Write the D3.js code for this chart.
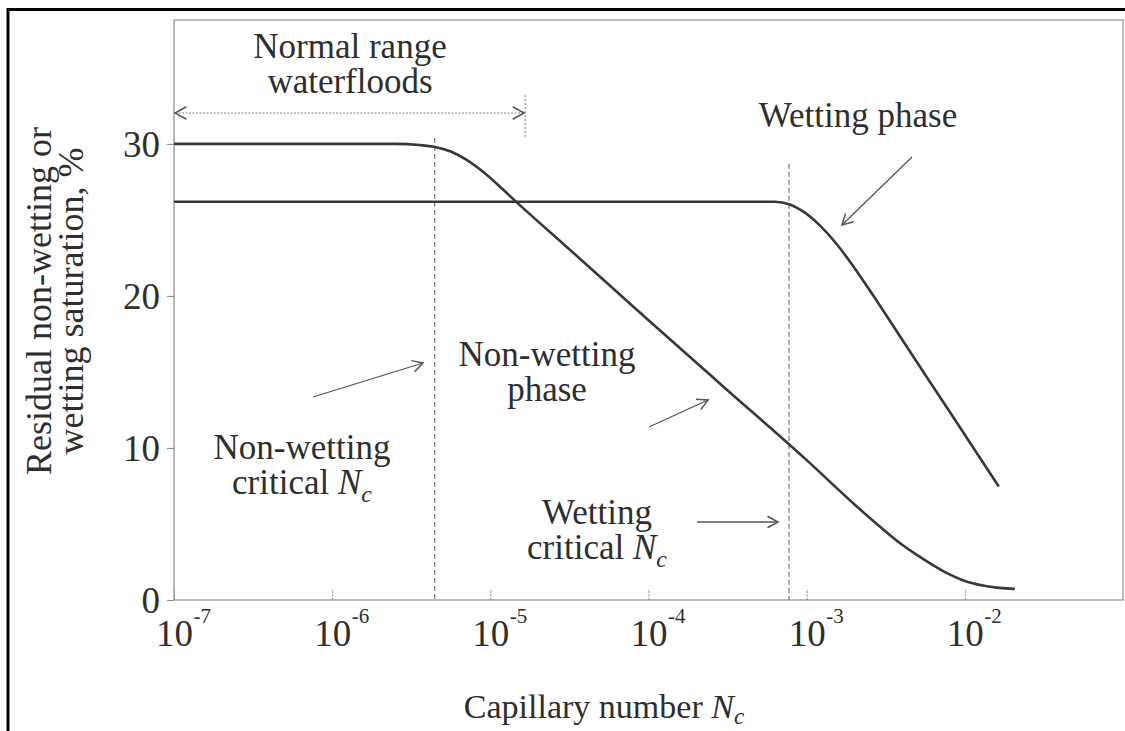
<!DOCTYPE html>
<html>
<head>
<meta charset="utf-8">
<script src="https://cdn.jsdelivr.net/npm/d3@7/dist/d3.min.js"></script>
<style>
  html, body { margin: 0; padding: 0; background: #ffffff; }
  svg { display: block; }
  text { font-family: "Liberation Serif", "Times New Roman", serif; fill: #2e2e2e; }
</style>
</head>
<body>
<svg id="chart" width="1125" height="731"></svg>
<script>
// Residual saturation vs capillary number (log axis)
const xTickExponents = [-7, -6, -5, -4, -3, -2];
const yTickValues = [0, 10, 20, 30];

// Non-wetting phase desaturation curve
const nonWettingNc = [1e-7, 1e-6, 2.51e-6, 3.55e-6, 4.47e-6, 5.62e-6, 7.08e-6, 8.91e-6, 1.12e-5, 1.43e-5,
                      3.03e-5, 1e-4, 3e-4, 1e-3, 2e-3, 3e-3, 3.88e-3, 5e-3, 6.28e-3, 8e-3,
                      9.7e-3, 1.3e-2, 1.65e-2, 2.07e-2];
const nonWettingS  = [30.0, 30.0, 30.0, 29.93, 29.8, 29.5, 28.95, 28.2, 27.3, 26.27,
                      23.24, 18.4, 14.0, 9.2, 6.3, 4.7, 3.75, 2.95, 2.3, 1.68,
                      1.3, 0.95, 0.8, 0.73];

// Wetting phase desaturation curve
const wettingNc = [1e-7, 1e-5, 1e-4, 5.06e-4, 6.3e-4, 7.83e-4, 9.74e-4, 1.21e-3, 1.51e-3, 1.875e-3,
                   2.51e-3, 3.88e-3, 8.04e-3, 1.64e-2];
const wettingS  = [26.2, 26.2, 26.2, 26.2, 26.2, 26.02, 25.48, 24.64, 23.55, 22.27,
                   20.36, 17.36, 12.36, 7.46];

// Critical capillary numbers and the upper limit of normal waterfloods
const nonWettingCriticalNc = 4.45e-6;
const wettingCriticalNc = 7.73e-4;
const normalRangeLimitNc = 1.66e-5;

const svg = d3.select("#chart");
const plotLeft = 174, plotRight = 1123, plotTop = 20, plotBottom = 600;

const x = d3.scaleLog().domain([1e-7, 1e-1]).range([plotLeft, plotRight]);
const y = d3.scaleLinear().domain([0, 38.15]).range([plotBottom, plotTop]);

// outer page border
svg.append("path")
  .attr("d", `M8,740 L8,9.5 L1135,9.5`)
  .attr("fill", "none").attr("stroke", "#000").attr("stroke-width", 3);

// plot frame
svg.append("rect")
  .attr("x", plotLeft).attr("y", plotTop)
  .attr("width", plotRight - plotLeft).attr("height", plotBottom - plotTop)
  .attr("fill", "none").attr("stroke", "#8c8c8c").attr("stroke-width", 1.2);

// x axis
const gx = svg.append("g").attr("transform", `translate(0,${plotBottom})`)
  .call(d3.axisBottom(x)
    .tickValues(xTickExponents.map(e => Math.pow(10, e)))
    .tickSizeInner(-11).tickSizeOuter(0)
    .tickFormat(""));
gx.select(".domain").remove();
gx.selectAll(".tick line").attr("stroke", "#8c8c8c").attr("stroke-width", 1.1)
  .attr("stroke-dasharray", "2,1.5");
gx.selectAll(".tick").each(function(d, i) {
  const g = d3.select(this);
  g.select("text").remove();
  g.append("text").attr("x", 0).attr("y", 46)
    .attr("text-anchor", "middle").attr("font-size", 37).text("10");
  g.append("text").attr("x", 19).attr("y", 23)
    .attr("text-anchor", "start").attr("font-size", 21).text(String(xTickExponents[i]));
});

// y axis
const gy = svg.append("g").attr("transform", `translate(${plotLeft},0)`)
  .call(d3.axisLeft(y).tickValues(yTickValues).tickSizeInner(7).tickSizeOuter(0).tickPadding(7));
gy.select(".domain").remove();
gy.selectAll(".tick line").attr("stroke", "#8c8c8c").attr("stroke-width", 1.1);
gy.selectAll(".tick text").attr("font-size", 37).attr("fill", "#2e2e2e").attr("dy", "0.35em");

// critical capillary number markers
svg.append("line")
  .attr("x1", x(nonWettingCriticalNc)).attr("x2", x(nonWettingCriticalNc))
  .attr("y1", 138).attr("y2", plotBottom)
  .attr("stroke", "#777").attr("stroke-width", 1.2).attr("stroke-dasharray", "5,3");
svg.append("line")
  .attr("x1", x(wettingCriticalNc)).attr("x2", x(wettingCriticalNc))
  .attr("y1", 164).attr("y2", plotBottom)
  .attr("stroke", "#777").attr("stroke-width", 1.2).attr("stroke-dasharray", "5,3");

// normal waterflood range
const rangeY = 113;
svg.append("line")
  .attr("x1", x(normalRangeLimitNc)).attr("x2", x(normalRangeLimitNc))
  .attr("y1", 95).attr("y2", 138)
  .attr("stroke", "#888").attr("stroke-width", 1.2).attr("stroke-dasharray", "2,2");
svg.append("line")
  .attr("x1", x(1e-7) + 1).attr("x2", x(normalRangeLimitNc) - 1)
  .attr("y1", rangeY).attr("y2", rangeY)
  .attr("stroke", "#888").attr("stroke-width", 1.2).attr("stroke-dasharray", "2,1.5");

function chevron(tipX, tipY, angle, size) {
  // open arrow head pointing along `angle` (radians)
  const a1 = angle + Math.PI - 0.5, a2 = angle + Math.PI + 0.5;
  return `M${tipX + size * Math.cos(a1)},${tipY + size * Math.sin(a1)} L${tipX},${tipY} L${tipX + size * Math.cos(a2)},${tipY + size * Math.sin(a2)}`;
}
svg.append("path").attr("d", chevron(x(1e-7) + 1, rangeY, Math.PI, 13))
  .attr("fill", "none").attr("stroke", "#555").attr("stroke-width", 1.5);
svg.append("path").attr("d", chevron(x(normalRangeLimitNc) - 1, rangeY, 0, 13))
  .attr("fill", "none").attr("stroke", "#555").attr("stroke-width", 1.5);

// curves
const line = d3.line()
  .x(d => x(d[0])).y(d => y(d[1]))
  .curve(d3.curveMonotoneX);
svg.append("path")
  .datum(nonWettingNc.map((v, i) => [v, nonWettingS[i]]))
  .attr("d", line).attr("fill", "none").attr("stroke", "#383838").attr("stroke-width", 2.6);
svg.append("path")
  .datum(wettingNc.map((v, i) => [v, wettingS[i]]))
  .attr("d", line).attr("fill", "none").attr("stroke", "#383838").attr("stroke-width", 2.6);

// annotation arrows
function arrow(x1, y1, x2, y2) {
  const ang = Math.atan2(y2 - y1, x2 - x1);
  svg.append("line").attr("x1", x1).attr("y1", y1).attr("x2", x2).attr("y2", y2)
    .attr("stroke", "#555").attr("stroke-width", 1.3);
  svg.append("path").attr("d", chevron(x2, y2, ang, 12))
    .attr("fill", "none").attr("stroke", "#555").attr("stroke-width", 1.5);
}
arrow(912, 157, 842, 225);
arrow(313, 397, 423, 363);
arrow(649, 427, 708, 400);
arrow(697, 522, 778, 522);

// annotation text: one text element per label, one tspan row per line
const lineGap = 35;
function label(cx, baseline, lines, size) {
  const t = svg.append("text").attr("x", cx).attr("y", baseline)
    .attr("text-anchor", "middle").attr("font-size", size);
  lines.forEach((ln, i) => {
    if (typeof ln === "string") {
      t.append("tspan").attr("x", cx).attr("dy", i === 0 ? 0 : lineGap).text(ln);
    } else {
      t.append("tspan").attr("x", cx).attr("dy", i === 0 ? 0 : lineGap).text(ln[0]);
      t.append("tspan").attr("font-style", "italic").text("N");
      t.append("tspan").attr("font-style", "italic").attr("font-size", size * 0.68)
        .attr("dy", 8).text("c");
    }
  });
}
label(350, 58, ["Normal range", "waterfloods"], 35);
label(858, 127, ["Wetting phase"], 35);
label(547, 366, ["Non-wetting", "phase"], 35);
label(302, 459, ["Non-wetting", ["critical "]], 35);
label(597, 524, ["Wetting", ["critical "]], 35);

// axis titles
const xt = svg.append("text").attr("x", 604).attr("y", 718)
  .attr("text-anchor", "middle").attr("font-size", 34);
xt.append("tspan").text("Capillary number ");
xt.append("tspan").attr("font-style", "italic").text("N");
xt.append("tspan").attr("font-style", "italic").attr("font-size", 23).attr("dy", 6).text("c");

const yt = svg.append("text").attr("transform", "translate(0,301) rotate(-90)")
  .attr("x", 0).attr("y", 51).attr("text-anchor", "middle").attr("font-size", 36);
yt.append("tspan").attr("x", 0).attr("dy", 0).text("Residual non-wetting or");
yt.append("tspan").attr("x", 0).attr("dy", 32).text("wetting saturation, %");
</script>
</body>
</html>
